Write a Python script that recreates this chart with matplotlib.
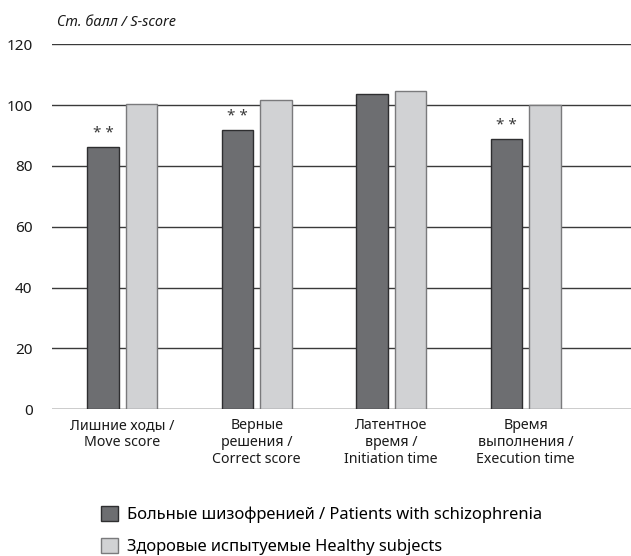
import numpy as np
import matplotlib
matplotlib.use("Agg")
import matplotlib.pyplot as plt
from matplotlib.patches import Patch

plt.rcParams['font.family'] = ['Noto Sans', 'DejaVu Sans']

categories = ["Лишние ходы /\nMove score",
              "Верные\nрешения /\nCorrect score",
              "Латентное\nвремя /\nInitiation time",
              "Время\nвыполнения /\nExecution time"]
patients = [86.2, 91.7, 103.5, 88.8]
healthy = [100.5, 101.7, 104.5, 100.1]
signif = ["* *", "* *", "", "* *"]
series_names = ["Больные шизофренией / Patients with schizophrenia",
                "Здоровые испытуемые Healthy subjects"]
yticks = [0, 20, 40, 60, 80, 100, 120]

DARK, DARK_EC = "#6d6e71", "#2e2e30"
LIGHT, LIGHT_EC = "#d1d2d4", "#7a7a7c"

fig = plt.figure(figsize=(6.31, 5.56), dpi=100)
ax = fig.add_axes([52 / 631, 146.7 / 556, 1 - 52 / 631, (511.7 - 146.7) / 556])

x = np.arange(len(categories))
w = 0.234
off = 0.143
ax.bar(x - off, patients, w, color=DARK, edgecolor=DARK_EC, lw=1.0, zorder=3)
ax.bar(x + off, healthy, w, color=LIGHT, edgecolor=LIGHT_EC, lw=1.0, zorder=3)
for xi, v, s in zip(x, patients, signif):
    if s:
        ax.text(xi - off, v + 4.6, s, ha="center", va="center", fontsize=11,
                color="#3a3a3a", fontweight="bold", zorder=4)

ax.set_ylim(0, 120)
ax.set_xlim(-0.522, 3.783)
ax.set_yticks(yticks)
for t in yticks:
    ax.axhline(t, color="black" if t == 0 else "#3a3a3a", lw=1.0, zorder=1)
ax.set_xticks(x)
ax.set_xticklabels(categories, fontsize=10.2, linespacing=1.15)
ax.tick_params(axis="y", length=0, labelsize=11, colors="#1a1a1a", pad=14)
ax.tick_params(axis="x", length=0, colors="#1a1a1a", pad=6.5)
for sp in ax.spines.values():
    sp.set_visible(False)

fig.text(57 / 631, 1 - 22 / 556, "Ст. балл / S-score", fontsize=10.4,
         style="italic", va="center", ha="left", color="#1a1a1a")

handles = [Patch(facecolor=DARK, edgecolor=DARK_EC, lw=1.0),
           Patch(facecolor=LIGHT, edgecolor=LIGHT_EC, lw=1.0)]
fig.legend(handles, series_names, loc="upper left",
           bbox_to_anchor=(101 / 631, 1 - 506 / 556), frameon=False,
           fontsize=11.9, handlelength=1.05, handleheight=1.0,
           handletextpad=0.55, labelspacing=0.9, borderpad=0,
           borderaxespad=0)

fig.savefig("out.png", dpi=100)
